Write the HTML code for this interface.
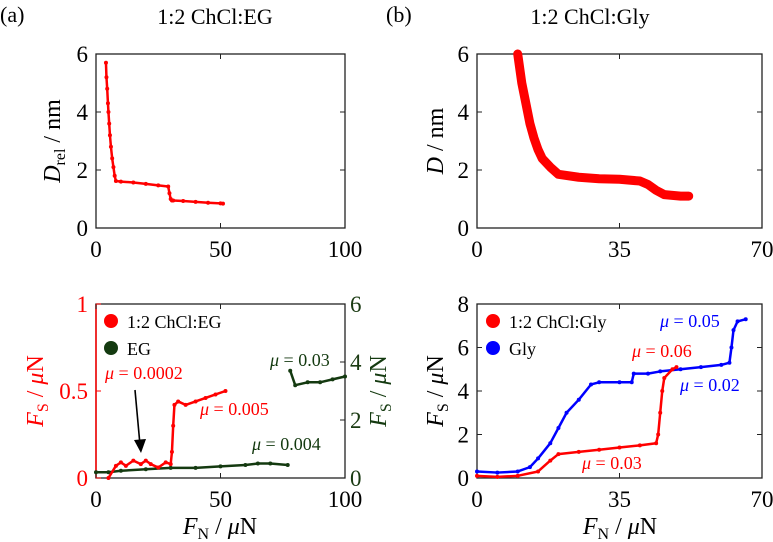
<!DOCTYPE html>
<html><head><meta charset="utf-8"><style>
html,body{margin:0;padding:0;background:#fff}
svg{display:block;font-family:"Liberation Serif","DejaVu Serif",serif}
</style></head><body>
<svg id="fig" width="773" height="542" viewBox="0 0 773 542">
<text x="0" y="22" font-size="22">(a)</text>
<text x="215" y="24" font-size="22" text-anchor="middle">1:2 ChCl:EG</text>
<text x="386" y="22" font-size="22">(b)</text>
<text x="590" y="24" font-size="22" text-anchor="middle">1:2 ChCl:Gly</text>
<g id="g"></g>
</svg>
<script>
// Panel a top: Drel vs FN
const aTopX=[4,4.2,4.5,4.8,5,5.3,5.6,6,6.5,7,7.5,8,10,15,20,25,29,29.5,30,30.5,31,35,40,45,50,51];
const aTopY=[5.7,5.2,4.8,4.3,4,3.6,3.2,2.8,2.4,2.1,1.8,1.62,1.6,1.57,1.52,1.47,1.43,1.2,1.0,0.95,0.95,0.93,0.9,0.87,0.85,0.84];
// Panel b top: D vs FN
const bTopX=[10,11,12,13,14,15,16,18,20,25,30,35,40,42,44,46,50,52];
const bTopY=[6,5,4.3,3.6,3.1,2.7,2.4,2.1,1.85,1.75,1.7,1.68,1.62,1.5,1.3,1.15,1.1,1.1];
// Panel a bottom: red (left axis 0-1), green (right axis 0-6)
const aRedX=[5,8,10,12,15,18,20,22,25,28,30,30.5,31,31.5,33,36,40,44,48,52];
const aRedY=[0,0.07,0.09,0.07,0.1,0.08,0.1,0.08,0.06,0.09,0.08,0.15,0.3,0.42,0.44,0.42,0.44,0.46,0.48,0.5];
const aGrnX=[0,5,10,20,30,40,50,60,65,70,77];
const aGrnY=[0.2,0.2,0.25,0.3,0.35,0.35,0.4,0.45,0.5,0.5,0.45];
const aGrn2X=[78,80,85,90,95,100];
const aGrn2Y=[3.7,3.2,3.3,3.3,3.4,3.5];
// Panel b bottom
const bRedX=[0,5,10,15,18,20,25,30,35,40,44,44.5,45,45.5,46,48,49];
const bRedY=[0.1,0.05,0.1,0.3,0.8,1.1,1.2,1.3,1.4,1.5,1.6,2,3,4,4.6,5,5.1];
const bBluX=[0,5,10,13,15,18,20,22,25,28,30,35,38,38.5,42,45,50,55,60,62,62.5,63,64,66];
const bBluY=[0.3,0.25,0.3,0.5,0.9,1.6,2.3,3,3.6,4.3,4.4,4.4,4.4,4.8,4.8,4.9,5,5.1,5.2,5.3,6,6.8,7.2,7.3];
const aTicksX=[0,50,100], bTicksX=[0,35,70];

const NS="http://www.w3.org/2000/svg", G=document.getElementById('g');
function el(t,a,p){const e=document.createElementNS(NS,t);for(const k in a)e.setAttribute(k,a[k]);(p||G).appendChild(e);return e;}
function txt(x,y,s,sz,col,anchor,rot){const e=el('text',{x:x,y:y,'font-size':sz,fill:col||'#000','text-anchor':anchor||'middle'});if(rot)e.setAttribute('transform','rotate(-90 '+x+' '+y+')');e.innerHTML=s;return e;}
function axes(L,R,T,B,x0,x1,y0,y1){return{sx:v=>L+(v-x0)/(x1-x0)*(R-L),sy:v=>B-(v-y0)/(y1-y0)*(B-T)};}
function frame(name,L,R,T,B){const r=el('rect',{x:L,y:T,width:R-L,height:B-T,fill:'none',stroke:'#222','stroke-width':1.3});}
function series(name,xs,ys,sx,sy,col,w,r){
  const g=el('g',{});
  el('polyline',{points:xs.map((x,i)=>sx(x)+','+sy(ys[i])).join(' '),fill:'none',stroke:col,'stroke-width':w,'stroke-linejoin':'round','stroke-linecap':'round'},g);
  xs.forEach((x,i)=>el('circle',{cx:sx(x),cy:sy(ys[i]),r:r,fill:col},g));
}
function xticks(a,ticks,T,B,y){ticks.forEach(t=>{const x=a.sx(t);el('line',{x1:x,x2:x,y1:B,y2:B-5,stroke:'#222'});el('line',{x1:x,x2:x,y1:T,y2:T+5,stroke:'#222'});txt(x,y,t,23);});}
function yticks(a,ticks,L,R,col,side,x){ticks.forEach(t=>{const y=a.sy(t);el('line',{x1:L,x2:L+5,y1:y,y2:y,stroke:'#222'});el('line',{x1:R,x2:R-5,y1:y,y2:y,stroke:'#222'});if(side)txt(x,y+8,t,23,col,side);});}

// Panel a top
let L=96,R=345,T=54,B=228;
let a=axes(L,R,T,B,0,100,0,6);
frame('panel-a-top-axes',L,R,T,B);
xticks(a,aTicksX,T,B,257);
yticks(a,[0,2,4,6],L,R,'#000','end',88);
series('drel-series',aTopX,aTopY,a.sx,a.sy,'#f00',2.5,2);
txt(60,141,'<tspan font-style="italic">D</tspan><tspan font-size="16" dy="5">rel</tspan><tspan dy="-5"> / nm</tspan>',24,'#000','middle',true);

// Panel b top
L=477;R=762;
a=axes(L,R,T,B,0,70,0,6);
frame('panel-b-top-axes',L,R,T,B);
xticks(a,bTicksX,T,B,257);
yticks(a,[0,2,4,6],L,R,'#000','end',469);
series('d-series',bTopX,bTopY,a.sx,a.sy,'#f00',9,3);
txt(443,141,'<tspan font-style="italic">D</tspan> / nm',24,'#000','middle',true);

// Panel a bottom
L=96;R=345;T=304;B=478;
a=axes(L,R,T,B,0,100,0,1);
const a2=axes(L,R,T,B,0,100,0,6);
frame('panel-a-bottom-axes',L,R,T,B);
el('line',{x1:L,x2:L,y1:T,y2:B,stroke:'#f00','stroke-width':1.5});
xticks(a,aTicksX,T,B,507);
[0,0.5,1].forEach(t=>{const y=a.sy(t);el('line',{x1:L,x2:L+5,y1:y,y2:y,stroke:'#f00'});txt(88,y+8,t,23,'#f00','end');});
[0,2,4,6].forEach(t=>{const y=a2.sy(t);el('line',{x1:R,x2:R-5,y1:y,y2:y,stroke:'#222'});txt(350,y+8,t,23,'#1a3a12','start');});
series('eg-series-low',aGrnX,aGrnY,a.sx,a2.sy,'#143a10',2.5,2);
series('eg-series-high',aGrn2X,aGrn2Y,a.sx,a2.sy,'#143a10',2.5,2);
series('chcl-eg-series',aRedX,aRedY,a.sx,a.sy,'#f00',2.5,2);
txt(43,391,'<tspan font-style="italic">F</tspan><tspan font-size="16" dy="5">S</tspan><tspan dy="-5"> / </tspan><tspan font-style="italic">μ</tspan>N',24,'#f00','middle',true);
txt(386,391,'<tspan font-style="italic">F</tspan><tspan font-size="16" dy="5">S</tspan><tspan dy="-5"> / </tspan><tspan font-style="italic">μ</tspan>N',24,'#143a10','middle',true);
el('circle',{cx:111,cy:321,r:7,fill:'#f00'});txt(127,328,'1:2 ChCl:EG',18,'#000','start');
el('circle',{cx:111,cy:348,r:7,fill:'#143a10'});txt(127,355,'EG',18,'#000','start');
txt(105,379,'<tspan font-style="italic">μ</tspan> = 0.0002',18,'#f00','start');
txt(200,415,'<tspan font-style="italic">μ</tspan> = 0.005',18,'#f00','start');
txt(252,450,'<tspan font-style="italic">μ</tspan> = 0.004',18,'#143a10','start');
txt(270,366,'<tspan font-style="italic">μ</tspan> = 0.03',18,'#143a10','start');
el('line',{x1:135,y1:390,x2:140,y2:445,stroke:'#000','stroke-width':1.6});
el('polygon',{points:'134,440 146,439 141,453',fill:'#000'});
txt(220,534,'<tspan font-style="italic">F</tspan><tspan font-size="16" dy="5">N</tspan><tspan dy="-5"> / </tspan><tspan font-style="italic">μ</tspan>N',24,'#000','middle');

// Panel b bottom
L=477;R=762;
a=axes(L,R,T,B,0,70,0,8);
frame('panel-b-bottom-axes',L,R,T,B);
xticks(a,bTicksX,T,B,507);
yticks(a,[0,2,4,6,8],L,R,'#000','end',469);
series('gly-series',bBluX,bBluY,a.sx,a.sy,'#00f',2.5,2);
series('chcl-gly-series',bRedX,bRedY,a.sx,a.sy,'#f00',2.5,2);
txt(443,391,'<tspan font-style="italic">F</tspan><tspan font-size="16" dy="5">S</tspan><tspan dy="-5"> / </tspan><tspan font-style="italic">μ</tspan>N',24,'#000','middle',true);
el('circle',{cx:493,cy:321,r:7,fill:'#f00'});txt(509,328,'1:2 ChCl:Gly',18,'#000','start');
el('circle',{cx:493,cy:348,r:7,fill:'#00f'});txt(509,355,'Gly',18,'#000','start');
txt(660,327,'<tspan font-style="italic">μ</tspan> = 0.05',18,'#00f','start');
txt(632,357,'<tspan font-style="italic">μ</tspan> = 0.06',18,'#f00','start');
txt(680,391,'<tspan font-style="italic">μ</tspan> = 0.02',18,'#00f','start');
txt(582,469,'<tspan font-style="italic">μ</tspan> = 0.03',18,'#f00','start');
txt(620,534,'<tspan font-style="italic">F</tspan><tspan font-size="16" dy="5">N</tspan><tspan dy="-5"> / </tspan><tspan font-style="italic">μ</tspan>N',24,'#000','middle');
</script>
</body></html>
